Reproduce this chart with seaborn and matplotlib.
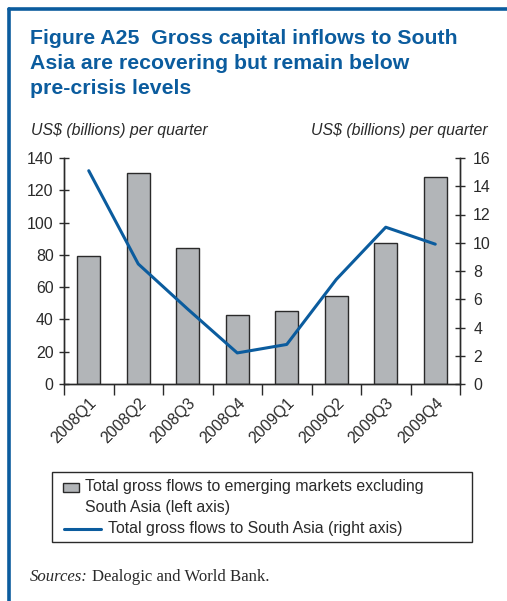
import numpy as np
import pandas as pd
import matplotlib
matplotlib.use("Agg")
import matplotlib.pyplot as plt
from matplotlib.lines import Line2D
from matplotlib.patches import Rectangle
import seaborn as sns

quarters = ["2008Q1", "2008Q2", "2008Q3", "2008Q4", "2009Q1", "2009Q2", "2009Q3", "2009Q4"]
em_flows = [79.5, 130.5, 84.5, 42.5, 45.0, 54.5, 87.5, 128.5]
sa_flows = [15.1, 8.5, 5.3, 2.2, 2.8, 7.4, 11.1, 9.9]
left_ticks = [0, 20, 40, 60, 80, 100, 120, 140]
right_ticks = [0, 2, 4, 6, 8, 10, 12, 14, 16]

BLUE = "#0b5c9e"
BAR = "#b2b5b8"
DARK = "#2a2a2a"

sns.set_theme(style="white")
plt.rcParams["font.family"] = ["Liberation Sans", "DejaVu Sans"]

W, H = 507, 601
fig = plt.figure(figsize=(W / 100, H / 100), dpi=100)

def fx(px):
    return px / W

def fy(py):
    return 1 - py / H

ax = fig.add_axes([fx(64), fy(384), fx(460) - fx(64), fy(158) - fy(384)])
df = pd.DataFrame({"quarter": quarters, "em": em_flows, "sa": sa_flows, "pos": np.arange(len(quarters))})

sns.barplot(data=df, x="quarter", y="em", ax=ax, color=BAR, width=0.47,
            edgecolor=DARK, linewidth=1.0, saturation=1)
ax.set_ylim(0, 140)
ax.set_xlim(-0.5, len(quarters) - 0.5)
ax.set_yticks(left_ticks)
ax.set_xlabel("")
ax.set_ylabel("")

ax2 = ax.twinx()
sns.lineplot(data=df, x="pos", y="sa", ax=ax2, color=BLUE, linewidth=2.2, sort=False)
ax2.set_ylim(0, 16)
ax2.set_yticks(right_ticks)
ax2.set_xlim(-0.5, len(quarters) - 0.5)
ax2.set_ylabel("")
ax2.set_xlabel("")

FS = 11.4

# x ticks at category boundaries, labels at centers
ax.set_xticks(np.arange(-0.5, len(quarters), 1.0))
ax.set_xticklabels([])
ax.set_xticks(np.arange(len(quarters)), minor=True)
ax.set_xticklabels(quarters, minor=True, rotation=45, ha="right", rotation_mode="anchor",
                   fontsize=FS, color=DARK)
ax.tick_params(axis="x", which="major", direction="out", length=8, width=1, color=DARK, bottom=True)
ax.tick_params(axis="x", which="minor", length=0, pad=8, bottom=True)
ax.tick_params(axis="y", direction="inout", length=7, width=1, color=DARK, labelsize=FS,
               labelcolor=DARK, left=True, pad=4)
ax2.tick_params(axis="y", direction="inout", length=7, width=1, color=DARK, labelsize=FS,
                labelcolor=DARK, right=True, pad=6)

for a in (ax, ax2):
    a.spines["top"].set_visible(False)
    for s in ("left", "right", "bottom"):
        a.spines[s].set_color(DARK)
        a.spines[s].set_linewidth(1.0)
    a.grid(False)
    a.set_facecolor("none")

# blue frame
fig.add_artist(Line2D([fx(9), fx(9)], [fy(9), 0], color=BLUE, lw=2.6, transform=fig.transFigure))
fig.add_artist(Line2D([fx(9), 1], [fy(9), fy(9)], color=BLUE, lw=2.6, transform=fig.transFigure))

# title
fig.text(fx(30), fy(38), "Figure A25  Gross capital inflows to South", ha="left", va="center",
         fontsize=15.3, fontweight="bold", color=BLUE)
fig.text(fx(30), fy(63.5), "Asia are recovering but remain below", ha="left", va="center",
         fontsize=15.3, fontweight="bold", color=BLUE)
fig.text(fx(30), fy(89), "pre-crisis levels", ha="left", va="center",
         fontsize=15.3, fontweight="bold", color=BLUE)

# axis unit labels
fig.text(fx(31), fy(130), "US$ (billions) per quarter", ha="left", va="center", fontsize=FS,
         style="italic", color=DARK)
fig.text(fx(488), fy(130), "US$ (billions) per quarter", ha="right", va="center", fontsize=FS,
         style="italic", color=DARK)

# legend
fig.add_artist(Rectangle((fx(52), fy(542)), fx(472) - fx(52), fy(472) - fy(542), transform=fig.transFigure,
                         facecolor="white", edgecolor=DARK, lw=1.0))
fig.add_artist(Rectangle((fx(63), fy(492)), fx(79) - fx(63), fy(483) - fy(492), transform=fig.transFigure,
                         facecolor=BAR, edgecolor=DARK, lw=1.0))
fig.text(fx(85), fy(487), "Total gross flows to emerging markets excluding", ha="left", va="center",
         fontsize=FS, color=DARK)
fig.text(fx(85), fy(507.5), "South Asia (left axis)", ha="left", va="center",
         fontsize=FS, color=DARK)
fig.add_artist(Line2D([fx(64), fx(101)], [fy(529), fy(529)], color=BLUE, lw=2.2, transform=fig.transFigure))
fig.text(fx(108), fy(529), "Total gross flows to South Asia (right axis)", ha="left", va="center",
         fontsize=FS, color=DARK)

# sources
serif = ["Liberation Serif", "DejaVu Serif"]
t1 = fig.text(fx(30), fy(581), "Sources:", ha="left", va="baseline", fontsize=12.1, style="italic",
              family=serif, color=DARK)
renderer = fig.canvas.get_renderer()
bb = t1.get_window_extent(renderer=renderer)
fig.text((bb.x1 + 4) / W, fy(581), "Dealogic and World Bank.", ha="left", va="baseline", fontsize=12.1,
         family=serif, color=DARK)

fig.savefig("out.png", dpi=100)
